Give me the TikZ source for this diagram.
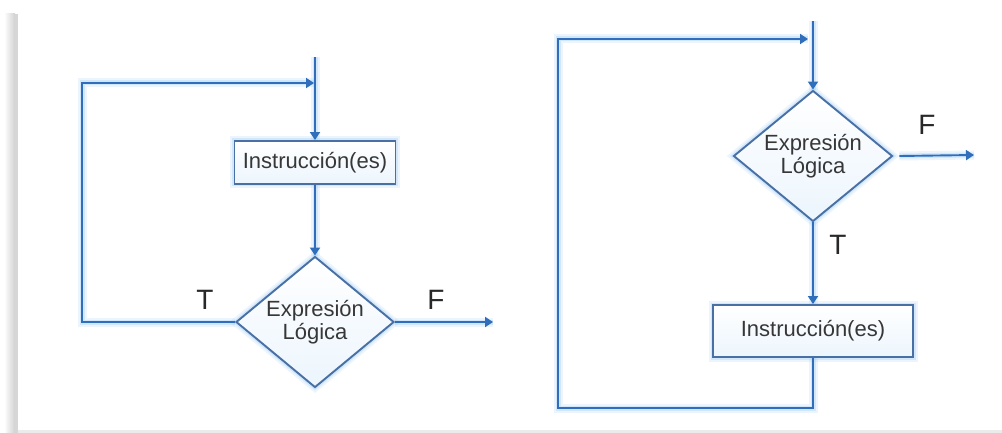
\documentclass[tikz,border=0pt]{standalone}
\usepackage{fontspec}
\setmainfont{Liberation Sans}
\usetikzlibrary{shapes.geometric,arrows.meta}

\definecolor{flowline}{RGB}{48,110,188}
\definecolor{shapeedge}{RGB}{72,112,165}
\definecolor{glowc}{RGB}{150,200,245}
\definecolor{fillc}{RGB}{236,245,253}
\definecolor{txt}{RGB}{55,55,55}
\definecolor{lbl}{RGB}{40,40,40}

\tikzset{
  halo/.style={
    preaction={draw=glowc, line width=9pt, opacity=.18, arrows=-},
    preaction={draw=glowc, line width=5pt, opacity=.30, arrows=-}},
  flow/.style={draw=flowline, line width=1.9pt, halo},
  arrowed/.style={flow, -{Triangle[length=8pt,width=10pt]}},
  stepbox/.style={rectangle, draw=shapeedge, line width=1.9pt, halo,
    top color=white, bottom color=fillc, text=txt,
    font=\fontsize{22pt}{24pt}\selectfont, inner sep=0pt},
  test/.style={diamond, draw=shapeedge, line width=1.9pt, halo,
    top color=white, bottom color=fillc, text=txt, align=center,
    font=\fontsize{22pt}{23pt}\selectfont, inner sep=0pt, aspect=1.2},
  tf/.style={text=lbl, font=\fontsize{28pt}{30pt}\selectfont, inner sep=0pt}
}

\begin{document}
\begin{tikzpicture}[x=1pt,y=-1pt]
  % page area and frame shading
  \useasboundingbox (0,0) rectangle (1002,433);
  \fill[white] (0,0) rectangle (1002,433);
  \shade[left color=white, right color=black!18] (4,14) rectangle (15,433);
  \fill[black!16] (15,14) rectangle (18,433);
  \fill[black!8] (18,430) rectangle (1002,433);

  % ---- do ... while: statements first, then the test ----
  \node[stepbox, minimum width=161pt, minimum height=43pt] (b1) at (315,162.5) {Instrucción(es)};
  \node[test, minimum width=158pt, minimum height=131pt] (d1) at (315,322) {Expresión\\Lógica};
  \coordinate (in1) at (315,57);
  \coordinate (c1) at (82,83);
  \coordinate (j1) at (314,83);
  \coordinate (o1) at (493,322);

  \draw[arrowed] (in1) -- (b1.north);
  \draw[arrowed] (b1.south) -- (d1.north);
  \draw[arrowed] (d1.west) -| (c1) -- (j1);
  \draw[arrowed] (d1.east) -- (o1);
  \node[tf] (t1) at (205,300) {T};
  \node[tf] (f1) at (436,300) {F};

  % ---- while: test first, then the statements ----
  \node[test, minimum width=159pt, minimum height=131pt] (d2) at (813,156) {Expresión\\Lógica};
  \node[stepbox, minimum width=200pt, minimum height=52pt] (b2) at (813,331) {Instrucción(es)};
  \coordinate (in2) at (813,21);
  \coordinate (c2a) at (813,408);
  \coordinate (c2b) at (558,39);
  \coordinate (j2) at (808,39);
  \coordinate (o2) at (974,155);

  \draw[arrowed] (in2) -- (d2.north);
  \draw[arrowed] (d2.south) -- (b2.north);
  \draw[arrowed] (b2.south) -- (c2a) -| (c2b) -- (j2);
  \draw[arrowed] ([xshift=6pt]d2.east) -- (o2);
  \node[tf] (t2) at (838,245) {T};
  \node[tf] (f2) at (927,125) {F};
\end{tikzpicture}
\end{document}
